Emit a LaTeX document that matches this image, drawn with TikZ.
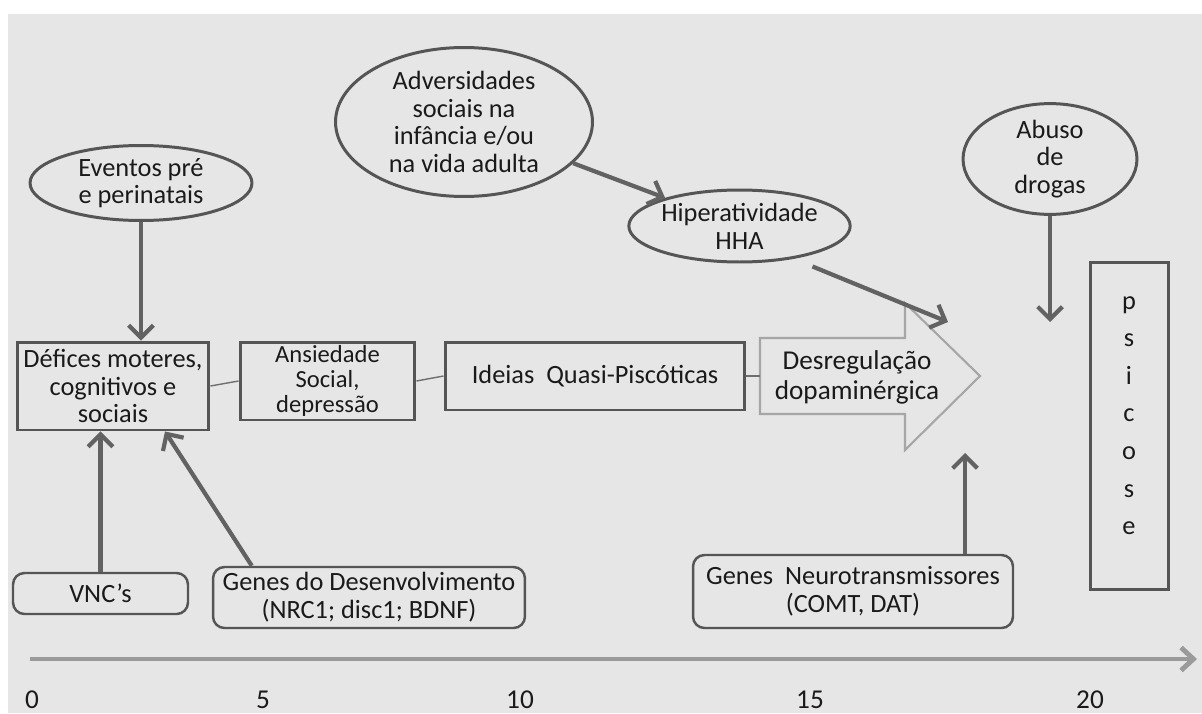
\documentclass[tikz,border=0pt]{standalone}
\usepackage{fontspec}
\setmainfont{Carlito}
\usetikzlibrary{arrows.meta,positioning,shapes.geometric}
\definecolor{bgcol}{HTML}{E6E6E6}
\definecolor{txtcol}{HTML}{1A1A1A}
\definecolor{boxcol}{HTML}{555555}
\definecolor{arrcol}{HTML}{626262}
\definecolor{lnkcol}{HTML}{6E6E6E}
\definecolor{bigcol}{HTML}{A6A6A6}
\definecolor{axcol}{HTML}{9A9A9A}
\begin{document}
\begin{tikzpicture}[x=0.02cm,y=-0.02cm,
  font=\fontsize{15}{15.8}\selectfont,
  box/.style={draw=boxcol,line width=1.7pt,fill=bgcol,align=center,inner sep=0pt,text=txtcol},
  rbox/.style={box,line width=1.4pt,rounded corners=6.5pt},
  oval/.style={ellipse,draw=boxcol,line width=1.7pt,fill=bgcol,align=center,inner sep=0pt,text=txtcol},
  arr/.style={draw=arrcol,line width=2.4pt,-{Straight Barb[length=7pt,width=14pt]}},
  link/.style={draw=lnkcol,line width=0.8pt},
  num/.style={text=txtcol,inner sep=0pt,font=\fontsize{15.5}{18}\selectfont}]
  \useasboundingbox (0,0) rectangle (1202,713);
  \fill[bgcol] (8,14) rectangle (1202,713);
  % big arrow
  \coordinate (shaftin) at (760,376);
  \draw[bigcol,line width=1.2pt,fill=bgcol] (760,338) -- (905,338) -- (905,303) -- (980,376)
     -- (905,450) -- (905,414) -- (760,414) -- cycle;
  \node (desreg) at (857,377) [align=center,text=txtcol,font=\fontsize{15.5}{17}\selectfont] {Desregulação\\dopaminérgica};
  \coordinate (hhatip) at (948,322);
  \coordinate (abtip) at (1050,322);
  \coordinate (neutip) at (965,453);
  % ovals
  \node (eventos) at (141,183) [oval,minimum width=4.44cm,minimum height=1.5cm] {Eventos pré\\e perinatais};
  \node (advers) at (464,122) [oval,minimum width=5.14cm,minimum height=2.98cm] {Adversidades\\sociais na\\infância e/ou\\na vida adulta};
  \node (hha) at (739.5,226) [oval,minimum width=4.1cm,minimum height=1.44cm] {Hiperatividade\\HHA};
  \node (abuso) at (1050,159) [oval,minimum width=3.48cm,minimum height=1.88cm] {Abuso\\de\\drogas};
  % boxes
  \node (defices) at (113,386) [box,minimum width=3.84cm,minimum height=1.76cm] {Défices moteres,\\cognitivos e\\sociais};
  \node (ansied) at (327.5,381) [box,minimum width=3.5cm,minimum height=1.56cm,
     font=\fontsize{14}{14.4}\selectfont] {Ansiedade\\Social,\\depressão};
  \node (ideias) at (595,376) [box,minimum width=6cm,minimum height=1.36cm] {Ideias\ \ Quasi-Piscóticas};
  \node (psicose) at (1129,426) [box,minimum width=1.56cm,minimum height=6.56cm,text depth=12pt,
     font=\fontsize{15}{21.4}\selectfont] {p\\s\\i\\c\\o\\s\\e};
  \node (vnc) at (100.5,593.5) [rbox,minimum width=3.5cm,minimum height=0.82cm] {VNC’s};
  \node (gdesenv) at (369,597.5) [rbox,minimum width=6.24cm,minimum height=1.22cm] {Genes do Desenvolvimento\\(NRC1; disc1; BDNF)};
  \node (gneuro) at (853,591.5) [rbox,minimum width=6.4cm,minimum height=1.46cm] {Genes\ \ Neurotransmissores\\(COMT, DAT)};
  % links
  \draw[link] (defices.east) -- (ansied.west);
  \draw[link] (ansied.east) -- (ideias.west);
  \draw[link] (ideias.east) -- (shaftin);
  % arrows
  \draw[arr] (eventos.south) -- (eventos.south |- defices.north);
  \draw[arr] (vnc.north) -- (vnc.north |- defices.south);
  \draw[arr] ([xshift=0.8cm]gdesenv.north west) -- ([xshift=1.04cm]defices.south);
  \draw[arr] (advers) -- (hha);
  \draw[arr] ([xshift=1.46cm,yshift=-0.06cm]hha.south) -- (hhatip);
  \draw[arr] (abuso.south) -- (abtip);
  \draw[arr] (gneuro.north -| neutip) -- (neutip);
  % time axis
  \coordinate (ax0) at (30,659);
  \coordinate (ax1) at (1197,659);
  \draw[axcol,line width=2.8pt,-{Straight Barb[length=7pt,width=13pt]}] (ax0) -- (ax1);
  \node (t0) at (32,700) [num] {0};
  \node (t5) at (263,700) [num] {5};
  \node (t10) at (520,700) [num] {10};
  \node (t15) at (810,700) [num] {15};
  \node (t20) at (1090,700) [num] {20};
\end{tikzpicture}
\end{document}
